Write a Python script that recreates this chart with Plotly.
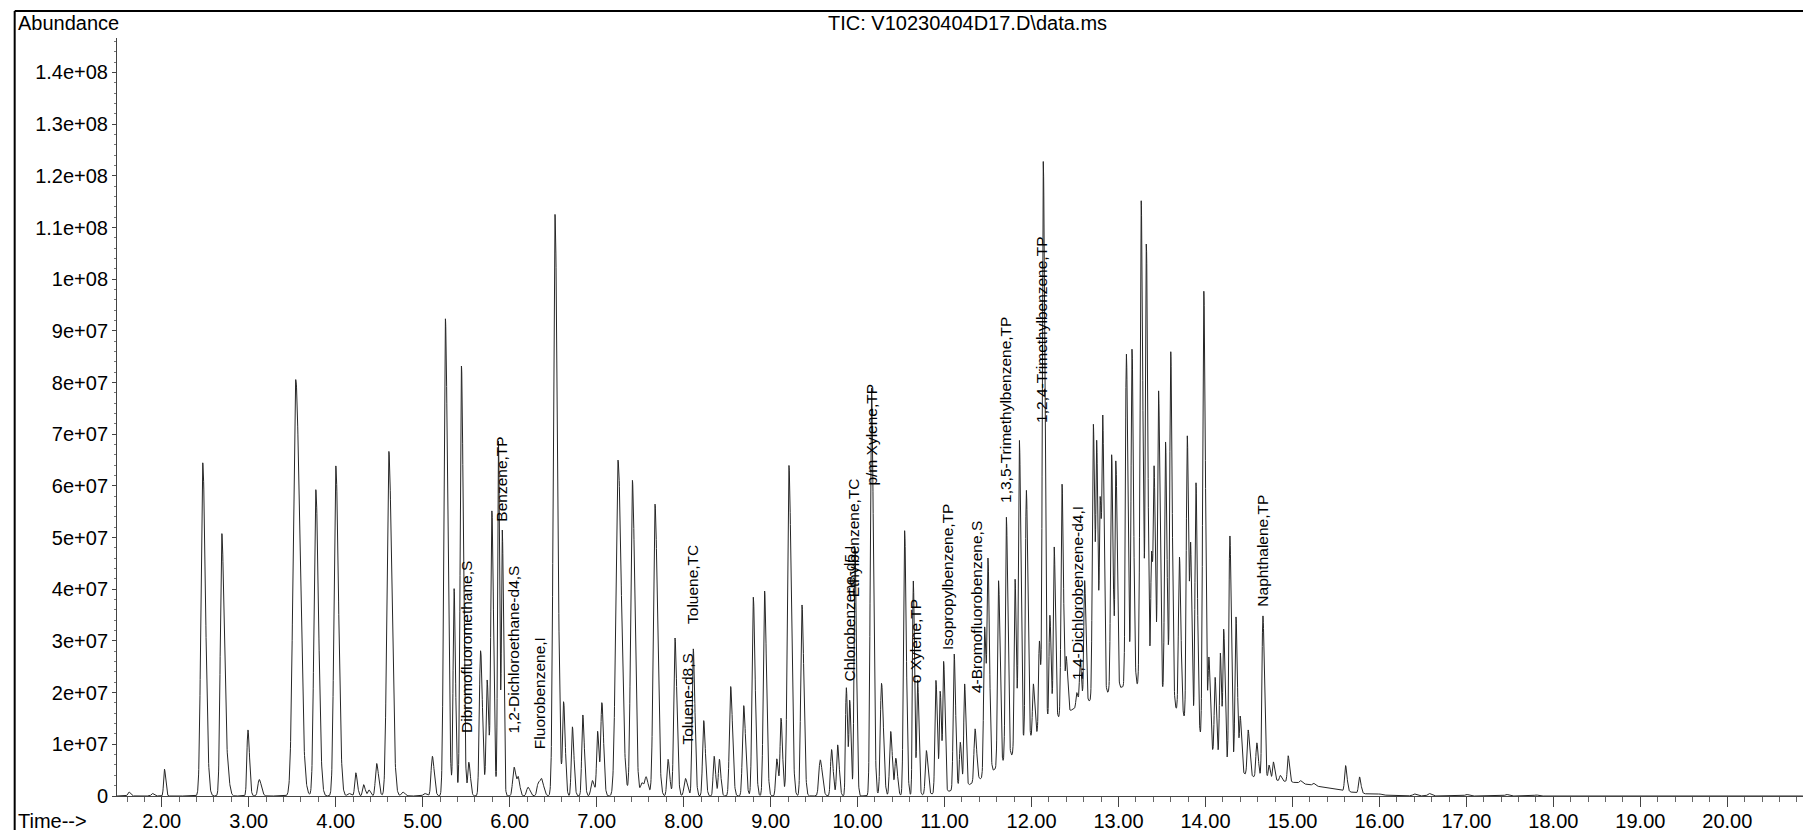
import numpy as np
import plotly.graph_objects as go

# ---- peak table: retention time (min), apex abundance, peak half-width sigma (min)
PEAK_RT = [
    1.62, 1.89, 2.03, 2.47, 2.69, 2.75, 2.99, 3.12, 3.54, 3.77,
    4.00, 4.15, 4.23, 4.32, 4.38, 4.47, 4.61, 4.77, 5.02, 5.11,
    5.26, 5.36, 5.445, 5.53, 5.665, 5.74, 5.795, 5.87, 5.915, 6.05,
    6.10, 6.21, 6.33, 6.37, 6.52, 6.62, 6.72, 6.84, 6.95, 7.01,
    7.06, 7.245, 7.41, 7.52, 7.57, 7.67, 7.82, 7.90, 8.02, 8.11,
    8.23, 8.35, 8.41, 8.54, 8.69, 8.80, 8.93, 9.07, 9.12, 9.21,
    9.36, 9.57, 9.70, 9.77, 9.87, 9.91, 9.97, 10.16, 10.275, 10.38,
    10.44, 10.54, 10.64, 10.69, 10.79, 10.90, 10.95, 10.99, 11.11, 11.18,
    11.23, 11.35, 11.46, 11.50, 11.62, 11.71, 11.81, 11.86, 11.94, 12.02,
    12.09, 12.135, 12.21, 12.26, 12.35, 12.40, 12.52, 12.56, 12.61, 12.71,
    12.75, 12.79, 12.82, 12.92, 12.97, 13.09, 13.155, 13.26, 13.32, 13.38,
    13.41, 13.46, 13.54, 13.60, 13.70, 13.79, 13.83, 13.89, 13.98, 14.04,
    14.11, 14.17, 14.21, 14.28, 14.35, 14.40, 14.49, 14.59, 14.66, 14.73,
    14.78, 14.86, 14.95, 15.09, 15.24, 15.39, 15.47, 15.61, 15.77, 16.00,
    16.40, 16.57, 17.00, 17.46, 17.80,
]
PEAK_ABUND = [
    0.08e7, 0.05e7, 0.52e7, 6.45e7, 5.08e7, 0.50e7, 1.28e7, 0.32e7, 8.06e7, 5.93e7,
    6.39e7, 0.05e7, 0.45e7, 0.22e7, 0.12e7, 0.63e7, 6.67e7, 0.08e7, 0.05e7, 0.77e7,
    9.24e7, 4.01e7, 8.32e7, 0.65e7, 2.81e7, 2.24e7, 5.49e7, 6.88e7, 5.08e7, 0.56e7,
    0.30e7, 0.17e7, 0.26e7, 0.26e7, 11.26e7, 1.79e7, 1.34e7, 1.57e7, 0.30e7, 1.24e7,
    1.79e7, 6.50e7, 6.11e7, 0.25e7, 0.34e7, 5.65e7, 0.71e7, 3.06e7, 0.34e7, 2.85e7,
    1.46e7, 0.77e7, 0.71e7, 2.12e7, 1.75e7, 3.85e7, 3.97e7, 0.72e7, 1.49e7, 6.40e7,
    3.70e7, 0.70e7, 0.90e7, 0.99e7, 2.10e7, 1.80e7, 4.80e7, 7.90e7, 2.18e7, 1.25e7,
    0.72e7, 5.14e7, 4.17e7, 2.24e7, 0.88e7, 2.24e7, 2.00e7, 2.56e7, 2.75e7, 1.04e7,
    2.17e7, 1.30e7, 3.27e7, 4.40e7, 4.17e7, 5.40e7, 4.20e7, 6.88e7, 5.92e7, 2.17e7,
    3.00e7, 12.26e7, 3.50e7, 4.82e7, 6.04e7, 2.63e7, 2.00e7, 2.60e7, 4.17e7, 7.20e7,
    6.50e7, 5.66e7, 6.86e7, 6.61e7, 6.43e7, 8.56e7, 8.64e7, 11.53e7, 10.61e7, 4.70e7,
    6.03e7, 7.84e7, 6.86e7, 8.60e7, 4.63e7, 6.98e7, 4.50e7, 6.07e7, 9.78e7, 2.60e7,
    2.30e7, 2.77e7, 3.18e7, 5.04e7, 3.47e7, 1.50e7, 1.28e7, 1.03e7, 3.49e7, 0.60e7,
    0.66e7, 0.40e7, 0.78e7, 0.30e7, 0.25e7, 0.15e7, 0.12e7, 0.59e7, 0.37e7, 0.04e7,
    0.04e7, 0.05e7, 0.03e7, 0.03e7, 0.02e7,
]
PEAK_SIGMA = [
    0.015, 0.015, 0.012, 0.026, 0.022, 0.020, 0.015, 0.020, 0.038, 0.026,
    0.026, 0.020, 0.015, 0.015, 0.015, 0.018, 0.028, 0.020, 0.020, 0.018,
    0.022, 0.014, 0.018, 0.015, 0.018, 0.015, 0.016, 0.012, 0.012, 0.020,
    0.015, 0.020, 0.020, 0.020, 0.024, 0.015, 0.015, 0.015, 0.020, 0.014,
    0.016, 0.032, 0.024, 0.020, 0.020, 0.024, 0.016, 0.018, 0.020, 0.016,
    0.016, 0.014, 0.014, 0.018, 0.018, 0.018, 0.018, 0.015, 0.014, 0.022,
    0.018, 0.020, 0.015, 0.015, 0.012, 0.012, 0.014, 0.018, 0.018, 0.016,
    0.015, 0.016, 0.012, 0.012, 0.015, 0.014, 0.012, 0.012, 0.014, 0.012,
    0.012, 0.015, 0.014, 0.014, 0.014, 0.014, 0.012, 0.014, 0.014, 0.012,
    0.012, 0.014, 0.012, 0.012, 0.014, 0.012, 0.012, 0.012, 0.012, 0.014,
    0.012, 0.012, 0.012, 0.014, 0.012, 0.014, 0.014, 0.016, 0.014, 0.012,
    0.012, 0.014, 0.014, 0.014, 0.014, 0.014, 0.012, 0.014, 0.016, 0.012,
    0.012, 0.012, 0.012, 0.014, 0.014, 0.012, 0.014, 0.014, 0.014, 0.012,
    0.012, 0.012, 0.012, 0.015, 0.015, 0.015, 0.015, 0.014, 0.014, 0.020,
    0.020, 0.020, 0.020, 0.020, 0.020,
]

# unresolved hump under the late-eluting cluster
HUMP_RT = [12.3, 13.35, 14.9]
HUMP_ABUND = [1.2e7, 1.9e7, 0.25e7]
HUMP_SIGMA = [0.55, 0.55, 0.5]

# identified compounds: name, retention time, label base abundance
LABEL_TEXT = [
    "Dibromofluoromethane,S", "Benzene,TP", "1,2-Dichloroethane-d4,S", "Fluorobenzene,I",
    "Toluene-d8,S", "Toluene,TC", "Chlorobenzene-d5,I", "Ethylbenzene,TC",
    "p/m Xylene,TP", "o Xylene,TP", "Isopropylbenzene,TP", "4-Bromofluorobenzene,S",
    "1,3,5-Trimethylbenzene,TP", "1,2,4-Trimethylbenzene,TP", "1,4-Dichlorobenzene-d4,I",
    "Naphthalene,TP",
]
LABEL_RT = [5.503, 5.906, 6.039, 6.338, 8.040, 8.102, 9.903, 9.950,
            10.161, 10.670, 11.042, 11.360, 11.694, 12.120, 12.537, 14.653]
LABEL_Y = [1.19e7, 5.27e7, 1.17e7, 0.87e7, 0.95e7, 3.29e7, 2.18e7, 3.80e7,
           5.96e7, 2.14e7, 2.79e7, 1.95e7, 5.63e7, 7.18e7, 2.21e7, 3.63e7]

Y_TICKS = [0, 1e7, 2e7, 3e7, 4e7, 5e7, 6e7, 7e7, 8e7, 9e7, 1e8, 1.1e8, 1.2e8, 1.3e8, 1.4e8]
Y_TICK_TEXT = ["0", "1e+07", "2e+07", "3e+07", "4e+07", "5e+07", "6e+07", "7e+07",
               "8e+07", "9e+07", "1e+08", "1.1e+08", "1.2e+08", "1.3e+08", "1.4e+08"]

T_MIN, T_MAX = 1.485, 20.87
Y_MAX = 1.4667e8

# ---- build the trace from the peak table
t = np.arange(T_MIN, T_MAX, 0.002)


def hump(x):
    out = np.zeros_like(np.asarray(x, dtype=float))
    for c, a, s in zip(HUMP_RT, HUMP_ABUND, HUMP_SIGMA):
        out = out + a * np.exp(-0.5 * ((x - c) / s) ** 2)
    return out


TAIL = 1.6  # right/left width ratio (peak tailing)
signal = hump(t)
for c, a, s in zip(PEAK_RT, PEAK_ABUND, PEAK_SIGMA):
    amp = max(a - float(hump(np.array([c]))[0]), 0.02 * a)
    s_left = 2 * s / (1 + TAIL)
    s_right = 2 * s * TAIL / (1 + TAIL)
    sig = np.where(t < c, s_left, s_right)
    signal = signal + amp * np.exp(-0.5 * ((t - c) / sig) ** 2)

# ---- page geometry (pixels)
W, H = 1803, 830
PL, PR, PT, PB = 117.3, 1803.0, 38.0, 795.7


def px_x(px):
    return (px - PL) / (PR - PL)


def px_y(py):
    return (PB - py) / (PB - PT)


FONT = "Liberation Sans, Arial, sans-serif"

fig = go.Figure()
fig.add_trace(go.Scatter(
    x=t, y=signal, mode="lines",
    line=dict(color="#262626", width=1),
    hoverinfo="skip", showlegend=False,
))

annotations = []
for name, rt, yv in zip(LABEL_TEXT, LABEL_RT, LABEL_Y):
    annotations.append(dict(
        x=rt, y=yv, xref="x", yref="y", text=name, showarrow=False,
        textangle=-90, xanchor="center", yanchor="bottom",
        font=dict(family=FONT, size=15.5, color="#000000"),
    ))

annotations += [
    dict(x=px_x(16), y=px_y(23.5), xref="paper", yref="paper", text="Abundance",
         showarrow=False, xanchor="left", yanchor="middle",
         font=dict(family=FONT, size=20, color="#000000")),
    dict(x=px_x(968), y=px_y(23.5), xref="paper", yref="paper",
         text="TIC: V10230404D17.D\\data.ms",
         showarrow=False, xanchor="center", yanchor="middle",
         font=dict(family=FONT, size=20, color="#000000")),
    dict(x=px_x(16), y=px_y(821), xref="paper", yref="paper", text="Time-->",
         showarrow=False, xanchor="left", yanchor="middle",
         font=dict(family=FONT, size=20, color="#000000")),
]

shapes = [
    dict(type="line", xref="paper", yref="paper",
         x0=px_x(15), x1=1.0, y0=px_y(11), y1=px_y(11),
         line=dict(color="#000000", width=2)),
    dict(type="line", xref="paper", yref="paper",
         x0=px_x(15), x1=px_x(15), y0=px_y(11), y1=px_y(H),
         line=dict(color="#000000", width=2)),
]

fig.update_layout(
    width=W, height=H,
    margin=dict(l=PL, r=W - PR, t=PT, b=H - PB, pad=0, autoexpand=False),
    paper_bgcolor="white", plot_bgcolor="white",
    annotations=annotations, shapes=shapes,
    showlegend=False,
)

fig.update_xaxes(
    range=[T_MIN, T_MAX], showgrid=False, zeroline=False, automargin=False,
    showline=True, linecolor="#444444", linewidth=1,
    tickmode="linear", tick0=0, dtick=1, tickformat=".2f",
    ticks="outside", ticklen=10, tickcolor="#444444", tickwidth=1,
    ticklabelstandoff=-3,
    tickfont=dict(family=FONT, size=20, color="#000000"),
    minor=dict(dtick=0.2, tick0=0, ticks="outside", ticklen=5,
               tickcolor="#666666", tickwidth=1, showgrid=False),
)
fig.update_yaxes(
    range=[0, Y_MAX], showgrid=False, zeroline=False, automargin=False,
    showline=True, linecolor="#444444", linewidth=1,
    tickmode="array", tickvals=Y_TICKS, ticktext=Y_TICK_TEXT,
    ticks="outside", ticklen=4, tickcolor="#444444", tickwidth=1,
    tickfont=dict(family=FONT, size=20, color="#000000"),
    minor=dict(tickmode="linear", dtick=2e6, tick0=0, ticks="outside", ticklen=2,
               tickcolor="#777777", tickwidth=1, showgrid=False),
)

# keep the page exactly one screen: no scrollbars from overhanging tick text
fig.write_html(
    "out.html",
    post_script="document.documentElement.style.overflow='hidden';"
                "document.body.style.overflow='hidden';document.body.style.margin='0';",
)
